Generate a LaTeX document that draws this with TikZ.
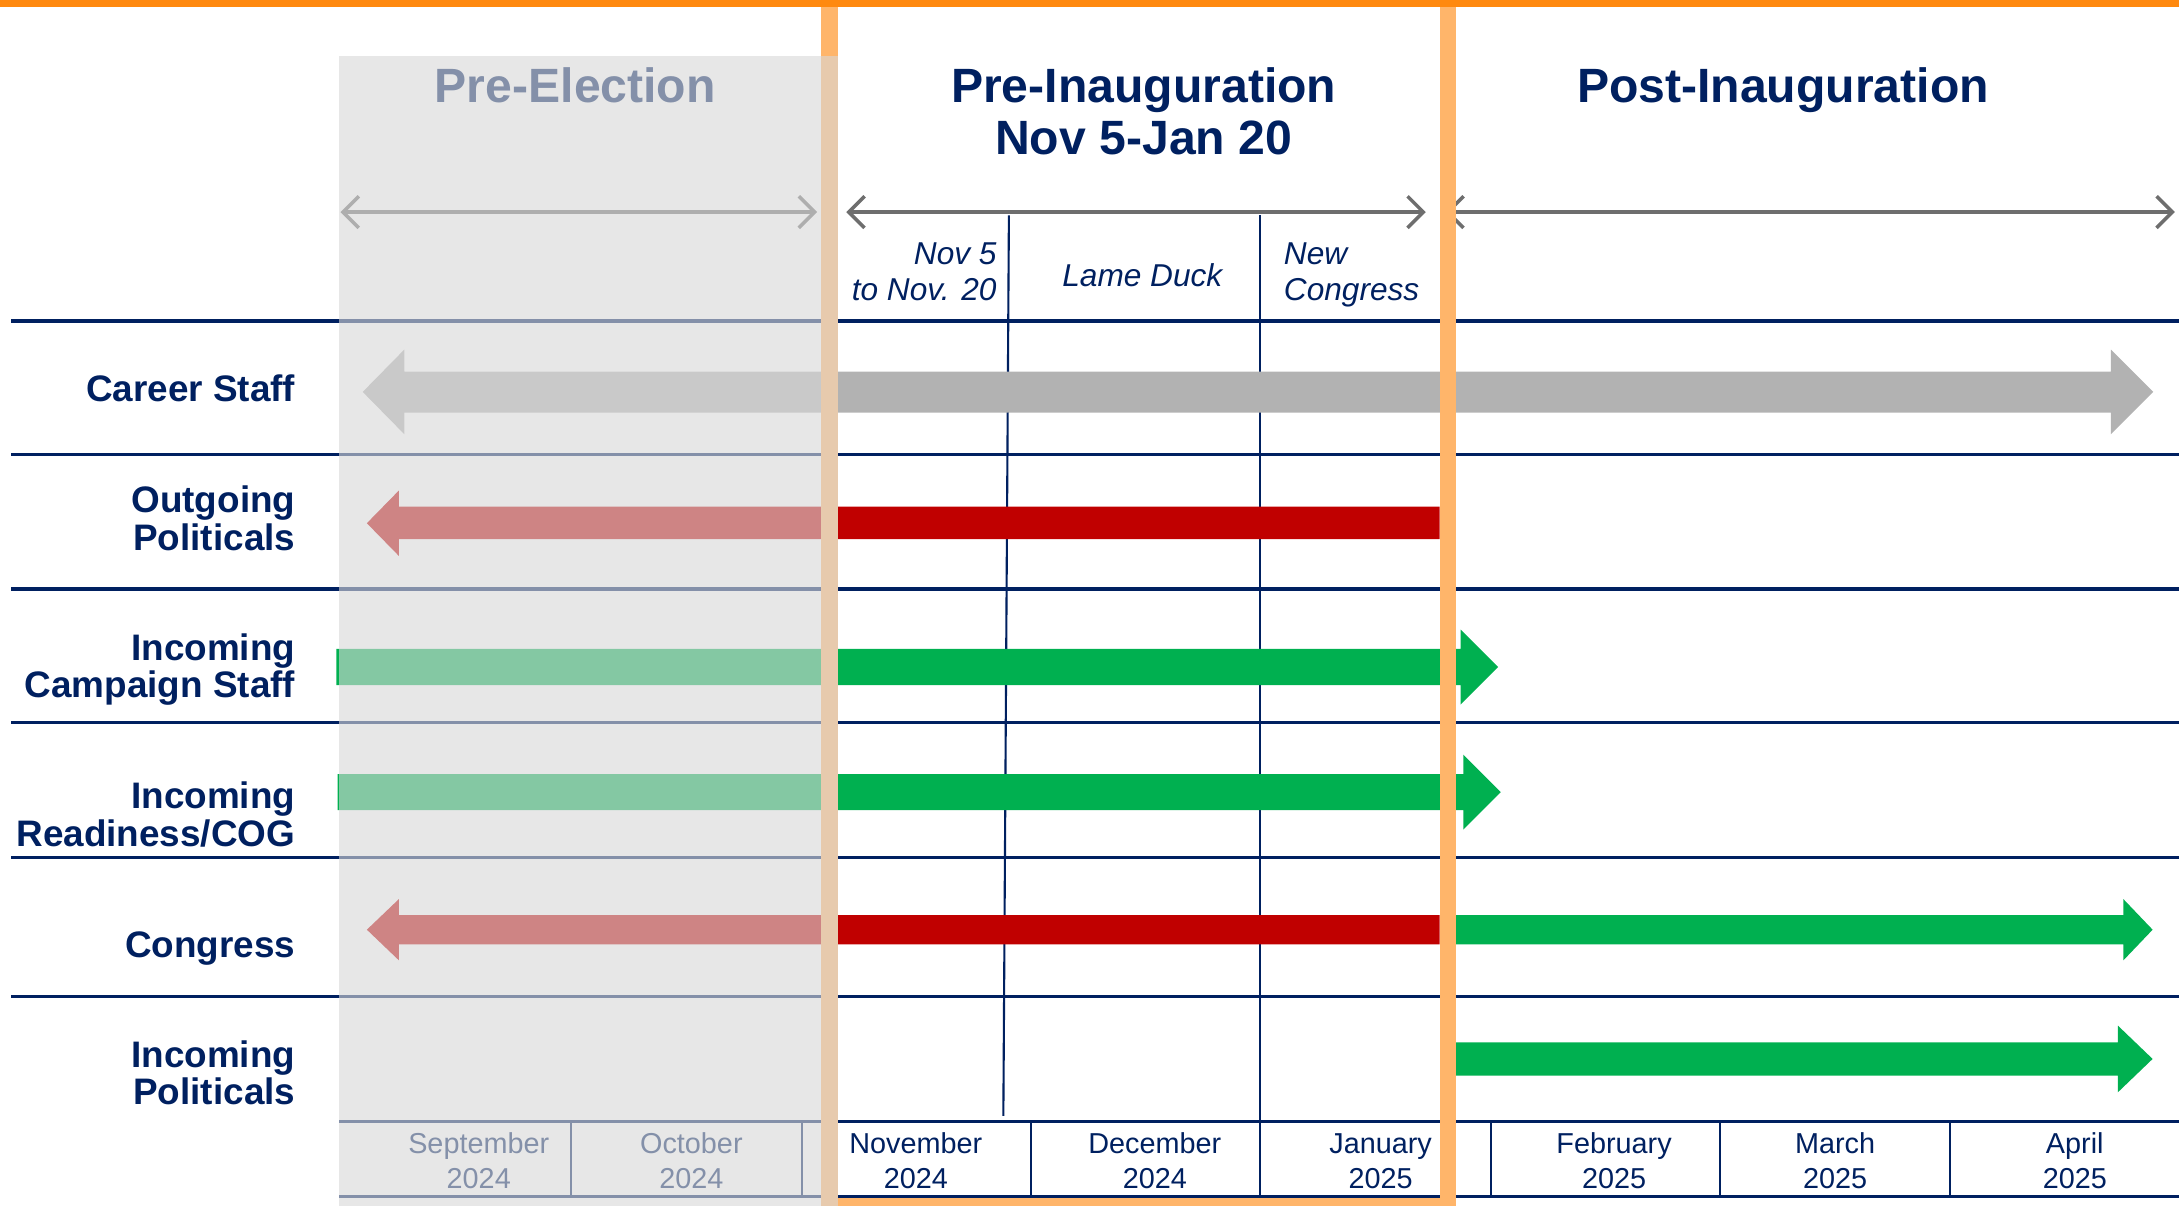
\documentclass[tikz,border=0pt]{standalone}
\usepackage{fontspec}
\setmainfont{Liberation Sans}
\usepackage{tikz}
\usetikzlibrary{arrows.meta}

\definecolor{navy}{RGB}{0,32,96}
\definecolor{barred}{RGB}{192,0,0}
\definecolor{bargreen}{RGB}{0,176,80}
\definecolor{bargray}{RGB}{178,178,178}
\definecolor{periodgray}{RGB}{110,110,110}
\definecolor{topbar}{RGB}{255,137,15}
\definecolor{frameorange}{RGB}{255,181,106}
\definecolor{veil}{RGB}{216,216,216}

\tikzset{
  rowline/.style={draw=navy, line width=1pt},
  tick/.style={draw=navy, line width=0.6pt},
  period/.style={draw=periodgray, line width=1pt, line cap=round,
    {Straight Barb[length=4.5pt,width=9pt]}-{Straight Barb[length=4.5pt,width=9pt]}},
  phase/.style={font=\fontsize{13.7}{14.8}\selectfont\bfseries, text=navy, anchor=base, align=center, inner sep=0pt},
  sublabel/.style={font=\fontsize{9}{10.2}\selectfont\itshape, text=navy, inner sep=0pt},
  rowlabel/.style={font=\fontsize{10.5}{10.65}\selectfont\bfseries, text=navy, anchor=base east, align=right, inner sep=0pt},
  month/.style={font=\fontsize{8.2}{9.9}\selectfont, text=navy, anchor=base, align=center, inner sep=0pt}
}

\begin{document}
\begin{tikzpicture}[x=0.139mm, y=-0.139mm]
\useasboundingbox (0,0) rectangle (1568,868);

% Row separators
\draw[rowline] (8,231) -- (1568,231);
\draw[rowline] (8,327) -- (1568,327);
\draw[rowline] (8,424) -- (1568,424);
\draw[rowline] (8,520) -- (1568,520);
\draw[rowline] (8,617) -- (1568,617);
\draw[rowline] (8,717) -- (1568,717);

% Month table
\draw[rowline] (244,807) -- (1568,807);
\draw[rowline] (244,861) -- (1568,861);
\draw[tick] (726,155) -- (722,803);
\draw[tick] (907,155) -- (907,861);
\draw[tick] (411,807) -- (411,861);
\draw[tick] (577,807) -- (577,861);
\draw[tick] (742,807) -- (742,861);
\draw[tick] (1073,807) -- (1073,861);
\draw[tick] (1238,807) -- (1238,861);
\draw[tick] (1403,807) -- (1403,861);

% Phase headers
\node[phase] (pre-election) at (414,74) {Pre-Election};
\node[phase] (pre-inaug) at (823,111.5) {Pre-Inauguration\\Nov 5-Jan 20};
\node[phase] (post-inaug) at (1283,74) {Post-Inauguration};

% Periods
\coordinate (pe-l) at (245,152.6);
\coordinate (pe-r) at (588,152.6);
\coordinate (pi-l) at (609,152.6);
\coordinate (pi-r) at (1026,152.6);
\coordinate (po-l) at (1040,152.6);
\coordinate (po-r) at (1565,152.6);
\draw[period] (pe-l) -- (pe-r);
\draw[period] (pi-l) -- (pi-r);
\draw[period] (po-l) -- (po-r);

\node[sublabel, anchor=base east, align=right] (nov5) at (717.6,216.4) {Nov 5\\to Nov. 20};
\node[sublabel, anchor=base] (lame-duck) at (822,206.3) {Lame Duck};
\node[sublabel, anchor=base west, align=left] (new-congress) at (923.4,216) {New\\Congress};

% Row labels
\node[rowlabel] (career) at (213,289) {Career Staff};
\node[rowlabel] (outgoing) at (213,396) {Outgoing\\Politicals};
\node[rowlabel] (campaign) at (213,502) {Incoming\\Campaign Staff};
\node[rowlabel] (readiness) at (213,609) {Incoming\\Readiness/COG};
\node[rowlabel] (congress) at (213,689) {Congress};
\node[rowlabel] (politicals) at (213,795) {Incoming\\Politicals};

% Months
\node[month] (sep) at (344.5,855) {September\\2024};
\node[month] (oct) at (497.5,855) {October\\2024};
\node[month] (nov) at (659,855) {November\\2024};
\node[month] (dec) at (831,855) {December\\2024};
\node[month] (jan) at (993.5,855) {January\\2025};
\node[month] (feb) at (1161.5,855) {February\\2025};
\node[month] (mar) at (1320.5,855) {March\\2025};
\node[month] (apr) at (1493,855) {April\\2025};

% Bars
\fill[bargray] (261,282) -- (291,251.5) -- (291,267.5) -- (1519,267.5) -- (1519,251.5) -- (1549.5,282)
  -- (1519,312.5) -- (1519,297) -- (291,297) -- (291,312.5) -- cycle;
\fill[barred] (264,376.5) -- (287,353) -- (287,364.5) -- (1036,364.5) -- (1036,388) -- (287,388) -- (287,400) -- cycle;
\fill[bargreen] (242,467) -- (1051,467) -- (1051,453) -- (1078,480) -- (1051,507) -- (1051,493) -- (242,493) -- cycle;
\fill[bargreen] (243,557) -- (1053,557) -- (1053,543) -- (1080,570) -- (1053,597) -- (1053,583) -- (243,583) -- cycle;
\fill[barred] (264,669) -- (287,647) -- (287,658.5) -- (1036,658.5) -- (1036,679.5) -- (287,679.5) -- (287,691) -- cycle;
\fill[bargreen] (1042,658.5) -- (1528,658.5) -- (1528,647) -- (1549,669) -- (1528,691) -- (1528,679.5) -- (1042,679.5) -- cycle;
\fill[bargreen] (1042,750) -- (1524,750) -- (1524,738) -- (1549,762) -- (1524,786) -- (1524,774) -- (1042,774) -- cycle;

% Orange frame
\fill[topbar] (0,0) rectangle (1568,4.8);
\fill[frameorange] (591,4.8) rectangle (603,868);
\fill[frameorange] (1036,4.8) rectangle (1048,868);
\fill[frameorange] (597,862) rectangle (1042,868);

% Pre-election veil
\fill[veil, opacity=0.61] (244,40) rectangle (603,868);
\end{tikzpicture}
\end{document}
